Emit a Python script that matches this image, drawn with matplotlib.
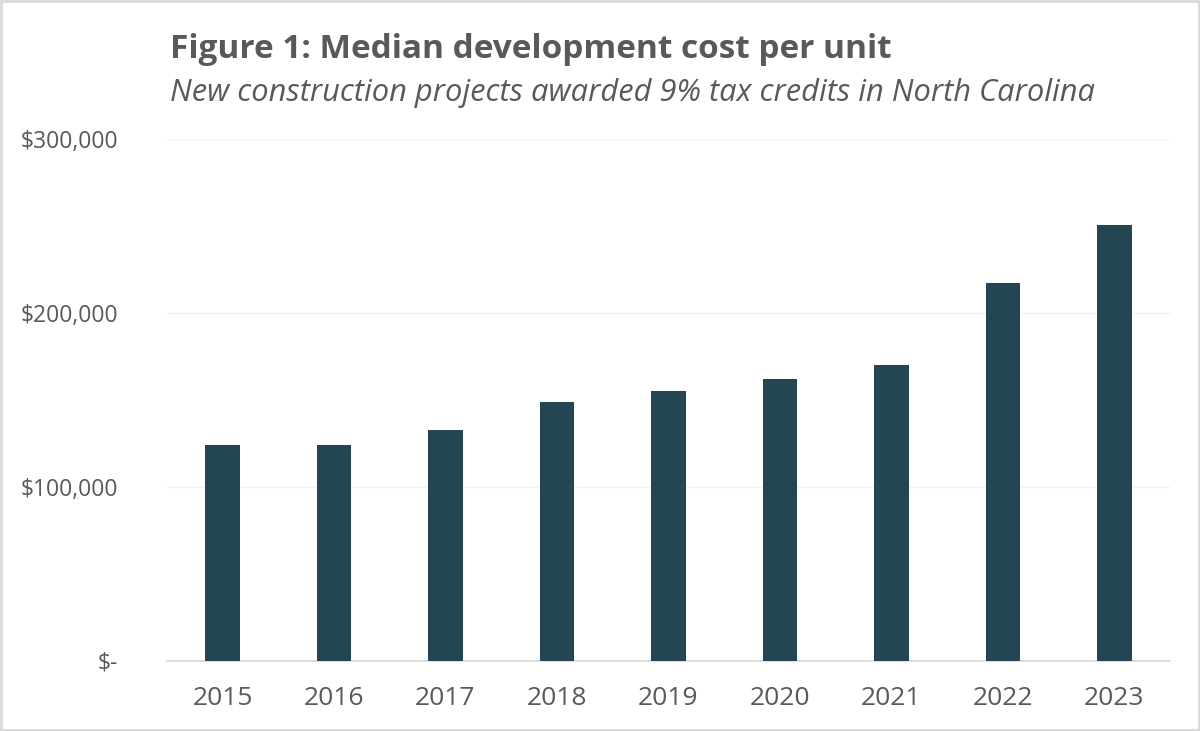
import matplotlib
matplotlib.use("Agg")
import matplotlib.pyplot as plt
from matplotlib.patches import Rectangle
from matplotlib.ticker import FixedLocator

years = ["2015", "2016", "2017", "2018", "2019", "2020", "2021", "2022", "2023"]
costs = [124000, 124000, 133000, 149000, 155000, 162000, 170000, 217000, 250500]
ytick_vals = [0, 100000, 200000, 300000]
ytick_labels = ["$-", "$100,000", "$200,000", "$300,000"]

title = "Figure 1: Median development cost per unit"
subtitle = "New construction projects awarded 9% tax credits in North Carolina"

plt.rcParams['font.family'] = ['Open Sans', 'DejaVu Sans']
text_color = "#595959"
bar_color = "#244652"

fig = plt.figure(figsize=(12, 7.31), dpi=100)
ax = fig.add_axes([0.139, 0.0958, 0.836, 0.714])

x = range(len(years))
ax.bar(x, costs, width=0.31, color=bar_color, zorder=3)
ax.set_xlim(-0.5, len(years) - 0.5)
ax.set_ylim(0, 300000)
ax.set_xticks(list(x))
ax.set_xticklabels(years, fontsize=19, color=text_color)
ax.yaxis.set_major_locator(FixedLocator(ytick_vals))
ax.set_yticklabels(ytick_labels, fontsize=16.5, color=text_color)
ax.tick_params(axis='both', length=0)
ax.tick_params(axis='x', pad=18)
ax.tick_params(axis='y', pad=35)
ax.grid(axis='y', color="#f2f2f2", linewidth=1, zorder=0)
for s in ['top', 'right', 'left']:
    ax.spines[s].set_visible(False)
ax.spines['bottom'].set_color("#d9d9d9")
ax.spines['bottom'].set_linewidth(1.2)

fig.text(170 / 1200, 1 - 50 / 731, title, fontsize=24, fontweight='bold',
         color=text_color, ha='left', va='center')
fig.text(170 / 1200, 1 - 93 / 731, subtitle, fontsize=22.2, style='italic',
         color=text_color, ha='left', va='center')

fig.patches.append(Rectangle((0.001, 0.0015), 0.998, 0.997, transform=fig.transFigure,
                             fill=False, edgecolor="#d9d9d9", linewidth=2))

fig.savefig("out.png", dpi=100, facecolor="white")
